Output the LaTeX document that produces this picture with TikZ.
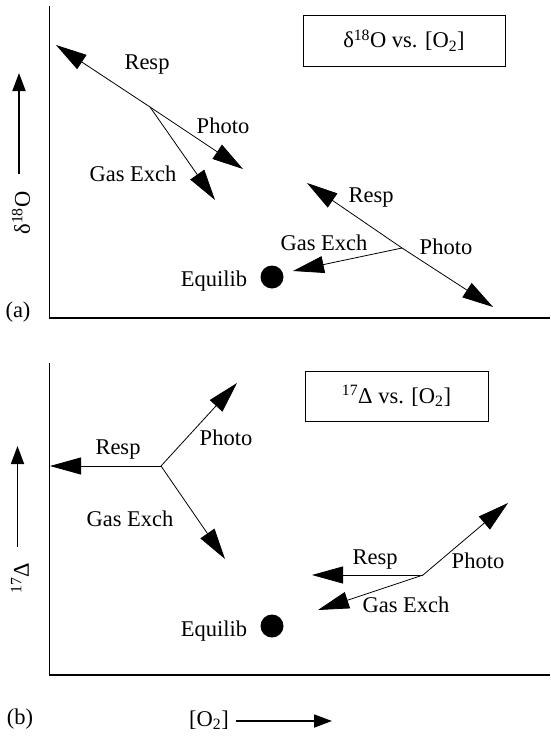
\documentclass[tikz,border=0pt]{standalone}
\usepackage{fontspec}
\setmainfont{Liberation Serif}
\usepackage{tikz}
\usetikzlibrary{arrows.meta,positioning}
\tikzset{
  axisline/.style = {draw=black, line width=1.2pt},
  flow/.style     = {-{Triangle[length=31pt,width=17pt]}, draw=black, line width=0.8pt},
  axisarrow/.style= {-{Triangle[length=18pt,width=13pt]}, draw=black, line width=1.8pt},
  lbl/.style      = {inner sep=1pt, font=\fontsize{22.5}{26}\selectfont},
  titlebox/.style = {draw=black, line width=1pt, minimum width=202pt, minimum height=51pt,
                     inner sep=0pt, font=\fontsize{22.5}{26}\selectfont},
  equilib/.style  = {circle, fill=black, minimum size=23pt, inner sep=0pt},
}

\begin{document}
\begin{tikzpicture}[x=1pt,y=-1pt]
  \useasboundingbox (0,0) rectangle (550,736);

  % panel (a)
  \coordinate (a0) at (49.5,6);
  \coordinate (aO) at (49.5,318);
  \coordinate (aX) at (550,318);
  \draw[axisline] (a0) -- (aO) -- (aX);
  \node[titlebox] (atitle) at (404,40.5) {δ\textsuperscript{18}O vs. [O\textsubscript{2}]};
  \coordinate (ayb) at (19,174);
  \coordinate (ayt) at (19,73);
  \draw[axisarrow] (ayb) -- (ayt);
  \node[lbl,rotate=90] (ayl) at (21,213) {δ\textsuperscript{18}O};
  \node[lbl] (alab) at (18,312) {(a)};

  \coordinate (ab1) at (150,107);
  \coordinate (ar1) at (56,45);
  \coordinate (ap1) at (243,169);
  \coordinate (ag1) at (215,200);
  \draw[flow] (ab1) -- (ar1);
  \draw[flow] (ab1) -- (ap1);
  \draw[flow] (ab1) -- (ag1);
  \node[lbl] (arl1) at (147,65) {Resp};
  \node[lbl] (apl1) at (223,126) {Photo};
  \node[lbl] (agl1) at (133,174) {Gas Exch};

  \coordinate (ab2) at (402,248);
  \coordinate (ar2) at (307,183);
  \coordinate (ap2) at (493,307);
  \coordinate (ag2) at (293,271);
  \draw[flow] (ab2) -- (ar2);
  \draw[flow] (ab2) -- (ap2);
  \draw[flow] (ab2) -- (ag2);
  \node[lbl] (arl2) at (371,198) {Resp};
  \node[lbl] (apl2) at (446,247) {Photo};
  \node[lbl] (agl2) at (324,243) {Gas Exch};

  \node[equilib] (aeq) at (272,277) {};
  \node[lbl] (aeql) at (214,281) {Equilib};

  % panel (b)
  \coordinate (b0) at (49.5,363);
  \coordinate (bO) at (49.5,675);
  \coordinate (bX) at (550,675);
  \draw[axisline] (b0) -- (bO) -- (bX);
  \node[titlebox,minimum width=183pt,minimum height=50pt] (btitle) at (396.5,396) {\textsuperscript{17}Δ vs. [O\textsubscript{2}]};
  \coordinate (byb) at (17.5,547);
  \coordinate (byt) at (17.5,446);
  \draw[axisarrow] (byb) -- (byt);
  \node[lbl,rotate=90] (byl) at (20,578) {\textsuperscript{17}Δ};
  \node[lbl] (blab) at (20,719) {(b)};

  \coordinate (bb1) at (161,466);
  \coordinate (br1) at (50,466);
  \coordinate (bp1) at (237,383);
  \coordinate (bg1) at (225,559);
  \draw[flow] (bb1) -- (br1);
  \draw[flow] (bb1) -- (bp1);
  \draw[flow] (bb1) -- (bg1);
  \node[lbl] (brl1) at (118,450) {Resp};
  \node[lbl] (bpl1) at (226,438) {Photo};
  \node[lbl] (bgl1) at (130,519) {Gas Exch};

  \coordinate (bb2) at (423,575);
  \coordinate (br2) at (312,575);
  \coordinate (bp2) at (508,503);
  \coordinate (bg2) at (318,610);
  \draw[flow] (bb2) -- (br2);
  \draw[flow] (bb2) -- (bp2);
  \draw[flow] (bb2) -- (bg2);
  \node[lbl] (brl2) at (375,560) {Resp};
  \node[lbl] (bpl2) at (478,561) {Photo};
  \node[lbl] (bgl2) at (406,605) {Gas Exch};

  \node[equilib] (beq) at (272,626) {};
  \node[lbl] (beql) at (214,631) {Equilib};

  \node[lbl] (bxl) at (209,720) {[O\textsubscript{2}]};
  \coordinate (bxa) at (236,721);
  \coordinate (bxb) at (332,721);
  \draw[axisarrow] (bxa) -- (bxb);
\end{tikzpicture}
\end{document}
